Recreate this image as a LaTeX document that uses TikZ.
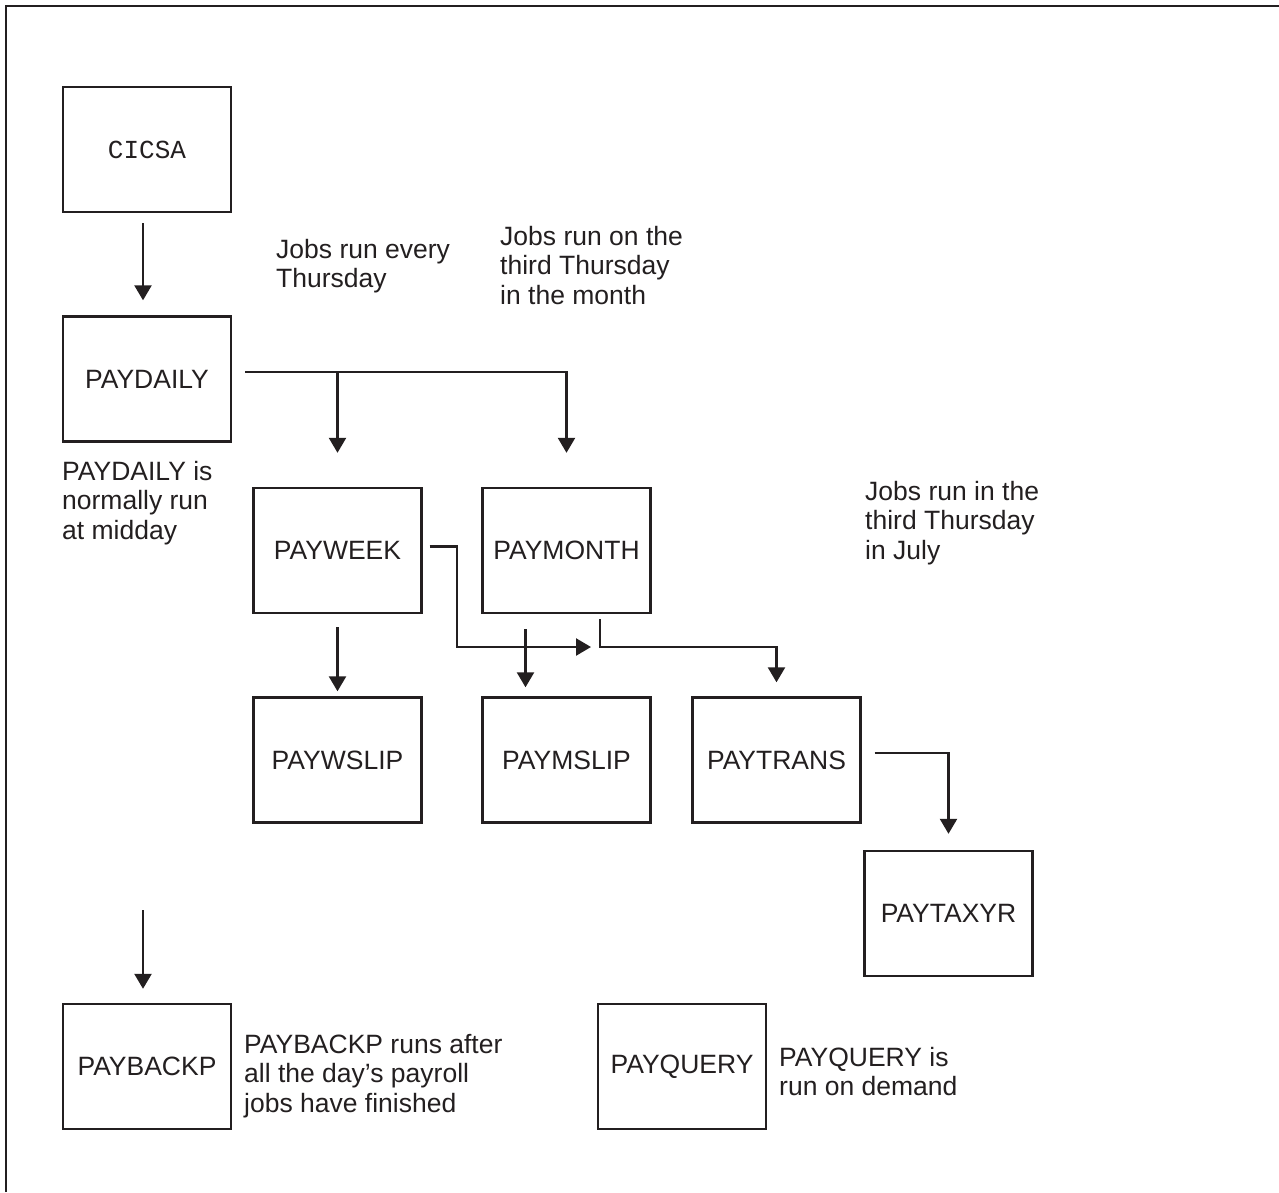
\documentclass[tikz,border=0pt]{standalone}
\usepackage{fontspec}
\setmainfont{Liberation Sans}
\newfontfamily\jobmono{Liberation Mono}
\usetikzlibrary{arrows.meta}
\definecolor{Ink}{HTML}{231F20}

\begin{document}
\begin{tikzpicture}[x=1pt,y=-1pt,every node/.style={font=\fontsize{26.5}{29.5}\selectfont,text=Ink},
  job/.style={draw=Ink,line width=2.4pt,minimum width=168pt,minimum height=125pt,inner sep=0pt},
  note/.style={anchor=north west,align=left,inner sep=0pt},
  flow/.style={draw=Ink,line width=2.4pt,-{Triangle[width=17pt,length=15pt]}}]
\useasboundingbox (0,0) rectangle (1279,1192);
\draw[Ink,line width=2.4pt] (6,1192) -- (6,6) -- (1279,6);
\node[job,font=\jobmono\fontsize{26}{30}\selectfont] (cicsa) at (147,149.5) {CICSA};
\node[job] (paydaily) at (147,379) {PAYDAILY};
\node[job] (payweek) at (337.5,550.5) {PAYWEEK};
\node[job] (paymonth) at (566.5,550.5) {PAYMONTH};
\node[job] (paywslip) at (337.5,760) {PAYWSLIP};
\node[job] (paymslip) at (566.5,760) {PAYMSLIP};
\node[job] (paytrans) at (776.5,760) {PAYTRANS};
\node[job] (paytaxyr) at (948.5,913.5) {PAYTAXYR};
\node[job] (paybackp) at (147,1066.5) {PAYBACKP};
\node[job] (payquery) at (682,1066.5) {PAYQUERY};
\node[note] (weekly) at (276,239) {Jobs run every\\Thursday};
\node[note] (monthly) at (500,226) {Jobs run on the\\third Thursday\\in the month};
\node[note] (dailynote) at (62,461) {PAYDAILY is\\normally run\\at midday};
\node[note] (yearly) at (865,481) {Jobs run in the\\third Thursday\\in July};
\node[note] (backnote) at (244,1034) {PAYBACKP runs after\\all the day’s payroll\\jobs have finished};
\node[note] (querynote) at (779,1047) {PAYQUERY is\\run on demand};
\coordinate (dailyout) at (245,372);
\coordinate (junction) at (600,647);
\coordinate (monthout) at (600,619);
\coordinate (backin) at (143,910);
\draw[flow] ([xshift=-4pt,yshift=-10pt]cicsa.south) -- ([xshift=-4pt,yshift=15pt]paydaily.north);
\draw[flow] (dailyout) -| ([yshift=34pt]paymonth.north);
\draw[flow] (dailyout -| payweek.north) -- ([yshift=34pt]payweek.north);
\draw[flow] ([yshift=-13pt]payweek.south) -- ([yshift=5pt]paywslip.north);
\draw[flow,shorten >=9pt] ([xshift=7pt,yshift=4pt]payweek.east) -- ++(27,0) |- (junction);
\draw[flow] (monthout) -- (junction) -| ([yshift=14pt]paytrans.north);
\draw[flow] ([xshift=-41pt,yshift=-15pt]paymonth.south) -- ([xshift=-41pt,yshift=9pt]paymslip.north);
\draw[flow] ([xshift=13pt,yshift=7pt]paytrans.east) -| ([yshift=16pt]paytaxyr.north);
\draw[flow] (backin) -- ([xshift=-4pt,yshift=14pt]paybackp.north);
\end{tikzpicture}
\end{document}
